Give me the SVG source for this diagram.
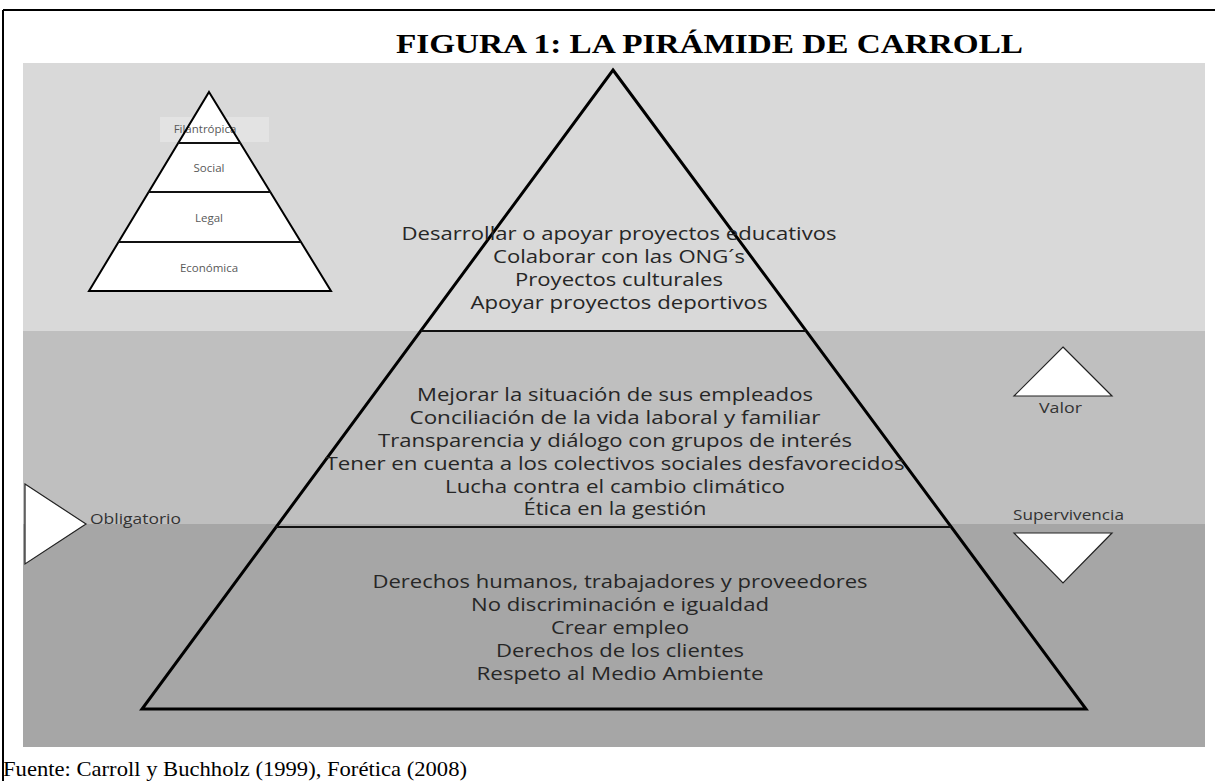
<svg xmlns="http://www.w3.org/2000/svg" width="1215" height="781" viewBox="0 0 1215 781">
  <style>
    .band-top { fill: #d9d9d9; }
    .band-mid { fill: #bfbfbf; }
    .band-bot { fill: #a6a6a6; }
    .frame { stroke: #000; stroke-width: 2; fill: none; }
    .title { font-family: "Liberation Serif", "Times New Roman", serif; font-weight: bold; font-size: 28px; fill: #000; }
    .source { font-family: "Liberation Serif", "Times New Roman", serif; font-size: 22px; fill: #000; }
    .big { font-family: "Open Sans", "Noto Sans", sans-serif; font-size: 18px; fill: #262626; text-anchor: middle; }
    .small { font-family: "Open Sans", "Noto Sans", sans-serif; font-size: 11.5px; fill: #595959; text-anchor: middle; }
    .side { font-family: "Open Sans", "Noto Sans", sans-serif; font-size: 14px; fill: #333; }
    .pyr { fill: none; stroke: #000; stroke-width: 3; stroke-linejoin: miter; }
    .pyr-line { stroke: #111; stroke-width: 2; }
    .mini { fill: none; stroke: #000; stroke-width: 2; }
    .arrow { fill: #fff; stroke: #222; stroke-width: 1.2; }
  </style>

  <rect x="0" y="0" width="1215" height="781" fill="#fff"/>

  <!-- frame -->
  <g id="frame">
    <line class="frame" x1="3" y1="10" x2="1215" y2="10"/>
    <line class="frame" x1="3" y1="10" x2="3" y2="781"/>
  </g>

  <text class="title" x="396" y="53" textLength="627" lengthAdjust="spacingAndGlyphs">FIGURA 1: LA PIRÁMIDE DE CARROLL</text>

  <!-- background bands -->
  <g id="bands">
    <rect class="band-top" x="23" y="63" width="1182" height="268"/>
    <rect class="band-mid" x="23" y="331" width="1182" height="193"/>
    <rect class="band-bot" x="23" y="524" width="1182" height="223"/>
  </g>

  <!-- small legend pyramid -->
  <g id="mini-pyramid">
    <rect x="160" y="117" width="109" height="25" fill="#e3e3e3"/>
    <polygon points="209,92 331,291 89,291" fill="#fff"/>
    <text class="small" x="205" y="133">Filantrópica</text>
    <polygon class="mini" points="209,92 331,291 89,291"/>
    <line class="pyr-line" x1="178" y1="143" x2="241" y2="143"/>
    <line class="pyr-line" x1="148" y1="192" x2="271" y2="192"/>
    <line class="pyr-line" x1="118" y1="242" x2="301" y2="242"/>
    <text class="small" x="209" y="172">Social</text>
    <text class="small" x="209" y="222">Legal</text>
    <text class="small" x="209" y="272">Económica</text>
  </g>

  <!-- main pyramid -->
  <g id="main-pyramid">
    <polygon class="pyr" points="613,70 1086,709 142,709"/>
    <line class="pyr-line" x1="421" y1="331" x2="806" y2="331"/>
    <line class="pyr-line" x1="276" y1="527" x2="951" y2="527"/>
  </g>

  <g id="level-filantropica">
    <text class="big" x="619" y="240" textLength="435" lengthAdjust="spacingAndGlyphs">Desarrollar o apoyar proyectos educativos</text>
    <text class="big" x="619" y="263" textLength="252" lengthAdjust="spacingAndGlyphs">Colaborar con las ONG´s</text>
    <text class="big" x="619" y="286" textLength="208" lengthAdjust="spacingAndGlyphs">Proyectos culturales</text>
    <text class="big" x="619" y="309" textLength="297" lengthAdjust="spacingAndGlyphs">Apoyar proyectos deportivos</text>
  </g>

  <g id="level-social">
    <text class="big" x="615" y="401" textLength="396" lengthAdjust="spacingAndGlyphs">Mejorar la situación de sus empleados</text>
    <text class="big" x="615" y="424" textLength="411" lengthAdjust="spacingAndGlyphs">Conciliación de la vida laboral y familiar</text>
    <text class="big" x="615" y="447" textLength="474" lengthAdjust="spacingAndGlyphs">Transparencia y diálogo con grupos de interés</text>
    <text class="big" x="615" y="470" textLength="579" lengthAdjust="spacingAndGlyphs">Tener en cuenta a los colectivos sociales desfavorecidos</text>
    <text class="big" x="615" y="493" textLength="340" lengthAdjust="spacingAndGlyphs">Lucha contra el cambio climático</text>
    <text class="big" x="615" y="515" textLength="183" lengthAdjust="spacingAndGlyphs">Ética en la gestión</text>
  </g>

  <g id="level-legal">
    <text class="big" x="620" y="588" textLength="495" lengthAdjust="spacingAndGlyphs">Derechos humanos, trabajadores y proveedores</text>
    <text class="big" x="620" y="611" textLength="298" lengthAdjust="spacingAndGlyphs">No discriminación e igualdad</text>
    <text class="big" x="620" y="634" textLength="138" lengthAdjust="spacingAndGlyphs">Crear empleo</text>
    <text class="big" x="620" y="657" textLength="248" lengthAdjust="spacingAndGlyphs">Derechos de los clientes</text>
    <text class="big" x="620" y="680" textLength="287" lengthAdjust="spacingAndGlyphs">Respeto al Medio Ambiente</text>
  </g>

  <!-- side indicators -->
  <g id="obligatorio">
    <polygon class="arrow" points="25,484 86,524 25,564"/>
    <text class="side" x="90" y="524" textLength="91" lengthAdjust="spacingAndGlyphs">Obligatorio</text>
  </g>
  <g id="valor">
    <polygon class="arrow" points="1063,347 1112,396 1014,396"/>
    <text class="side" x="1039" y="413" textLength="43" lengthAdjust="spacingAndGlyphs">Valor</text>
  </g>
  <g id="supervivencia">
    <text class="side" x="1013" y="520" textLength="111" lengthAdjust="spacingAndGlyphs">Supervivencia</text>
    <polygon class="arrow" points="1014,533 1112,533 1063,583"/>
  </g>

  <text class="source" x="3" y="776" textLength="464" lengthAdjust="spacingAndGlyphs">Fuente: Carroll y Buchholz (1999), Forética (2008)</text>
</svg>
